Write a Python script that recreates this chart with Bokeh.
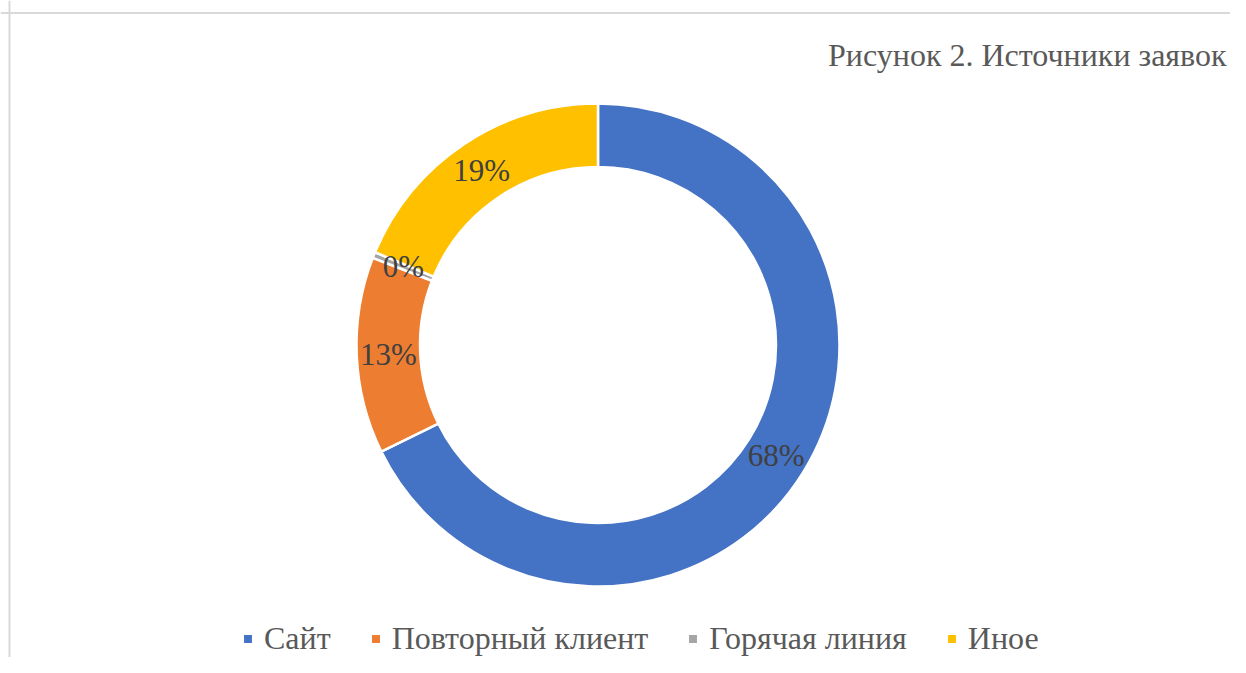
import numpy as np
from bokeh.plotting import figure
from bokeh.models import ColumnDataSource, Range1d, Label, Legend, LegendItem, Span
from bokeh.embed import file_html
from bokeh.resources import INLINE
from bokeh.core.properties import value

# ---- data ----
categories = ["Сайт", "Повторный клиент", "Горячая линия", "Иное"]
counts = [170, 33, 1, 47]
colors = ["#4472C4", "#ED7D31", "#A5A5A5", "#FFC000"]
title_text = "Рисунок 2. Источники заявок"

# ---- layout ----
W, H = 1230, 657
cx, cy = 597.5, 344.5          # donut centre in figure pixels (from left, from top)
R_OUT, R_IN = 241.5, 178.0
FONT = "Liberation Serif"

vals = np.array(counts, dtype=float)
fr = vals / vals.sum()
cum = np.cumsum(fr)
start = np.pi / 2 - 2 * np.pi * np.concatenate([[0.0], cum[:-1]])
end = np.pi / 2 - 2 * np.pi * cum
mid = (start + end) / 2
r_mid = (R_OUT + R_IN) / 2
pct = [f"{int(round(f * 100))}%" for f in fr]

src = ColumnDataSource(dict(
    cat=categories, start=start, end=end, color=colors,
    lx=r_mid * np.cos(mid), ly=r_mid * np.sin(mid), pct=pct,
))

p = figure(width=W, height=H, output_backend="svg", toolbar_location=None,
           x_range=Range1d(-cx, W - cx), y_range=Range1d(-(H - cy), cy),
           min_border=0, min_border_left=0, min_border_right=0,
           min_border_top=0, min_border_bottom=0)
p.axis.visible = False
p.grid.visible = False
p.outline_line_color = None
p.background_fill_color = "white"
p.border_fill_color = "white"

wedges = p.annular_wedge(x=0, y=0, inner_radius=R_IN, outer_radius=R_OUT,
                         start_angle="start", end_angle="end", direction="clock",
                         fill_color="color", line_color="white", line_width=2.5,
                         source=src)

p.text(x="lx", y="ly", text="pct", source=src, text_align="center",
       text_baseline="middle", text_font=value(FONT), text_font_size="31px",
       text_color="#404040")

# chart-area border (left and top edges visible)
p.add_layout(Span(location=9 - cx, dimension="height", line_color="#d9d9d9", line_width=2))
p.add_layout(Span(location=cy - 12.5, dimension="width", line_color="#d9d9d9", line_width=2))

p.add_layout(Label(x=1226 - cx, y=cy - 54, text=title_text, text_align="right",
                   text_baseline="alphabetic", text_font=FONT, text_font_size="32px",
                   text_color="#595959"))

items = [LegendItem(label=c, renderers=[wedges], index=i) for i, c in enumerate(categories)]
legend = Legend(items=items, orientation="horizontal", location=(241, 0),
                label_text_font=FONT, label_text_font_size="32px",
                label_text_color="#595959", glyph_width=13, glyph_height=13,
                spacing=38, label_standoff=10, padding=0, margin=0,
                border_line_color=None, background_fill_alpha=0)
p.add_layout(legend)

open("out.html", "w").write(file_html(p, INLINE))
